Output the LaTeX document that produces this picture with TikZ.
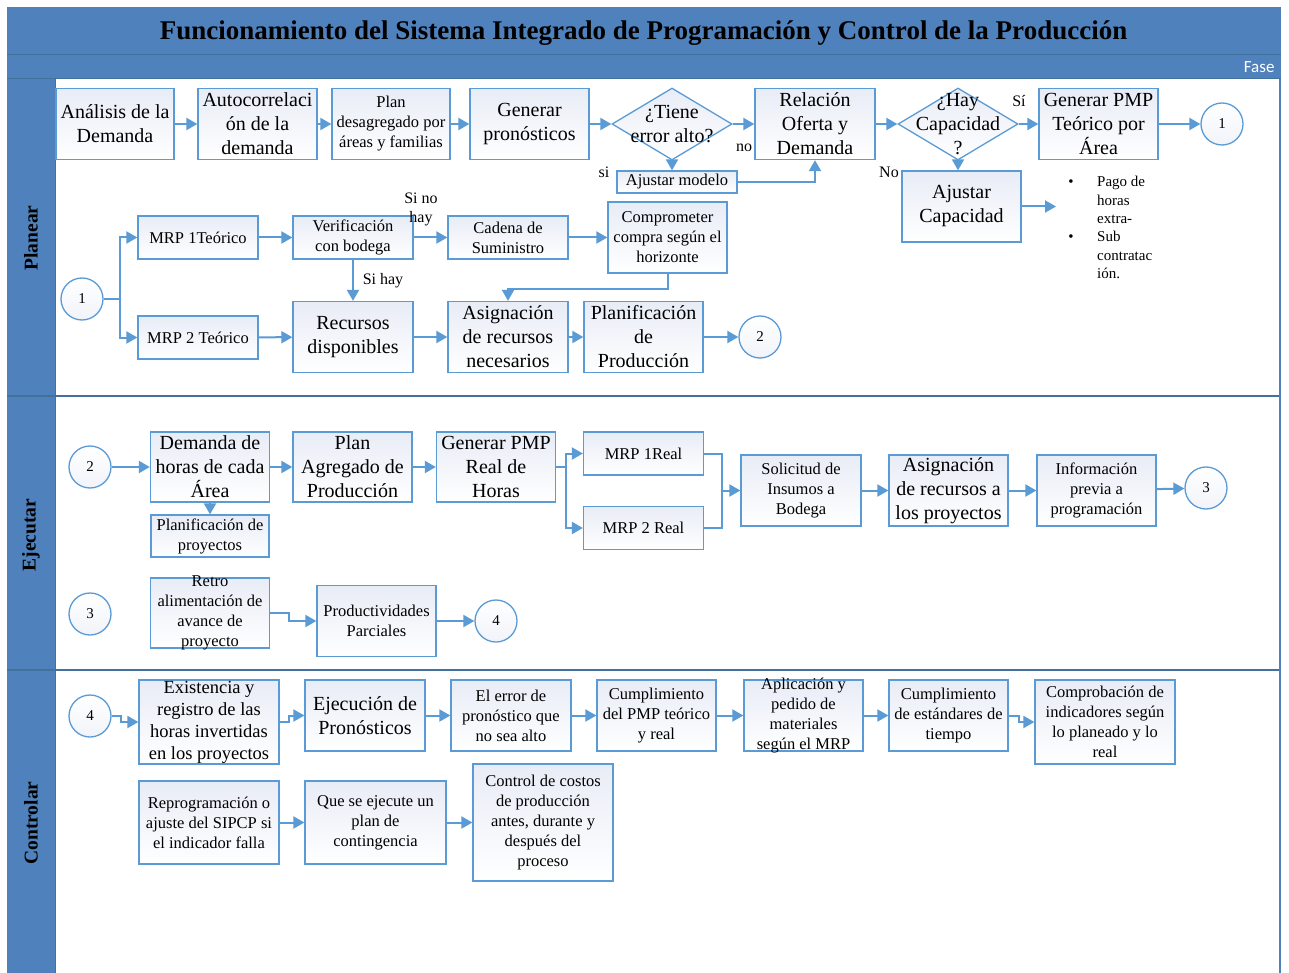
\documentclass[tikz,border=0pt]{standalone}
\usepackage{fontspec}
\setmainfont{Liberation Serif}
\newfontfamily\fasefont{Carlito}
\usetikzlibrary{arrows.meta,shapes.geometric}

\definecolor{laneblue}{HTML}{4F81BD}
\definecolor{lanedark}{HTML}{41719C}
\definecolor{boxline}{HTML}{5B9BD5}
\definecolor{boxtint}{HTML}{E8ECF6}

\newcommand{\bigtxt}{\fontsize{20}{24}\selectfont}
\newcommand{\smtxt}{\fontsize{16.5}{20}\selectfont}
\newcommand{\listtxt}{\fontsize{15}{18.5}\selectfont}

\tikzset{
    box/.style={draw=boxline, line width=1.3pt, top color=boxtint, bottom color=white,
        align=center, inner sep=0pt, minimum width=119pt},
    tallbox/.style={box, minimum height=71pt, font=\bigtxt},
    tallsmall/.style={box, minimum height=71pt, font=\smtxt},
    flatbox/.style={box, minimum width=120pt, minimum height=43pt, font=\smtxt},
    decision/.style={diamond, draw=boxline, line width=1.3pt, top color=boxtint, bottom color=white,
        minimum width=120pt, minimum height=72pt, inner sep=0pt, aspect=1.67},
    joint/.style={circle, draw=boxline, line width=1.3pt, top color=white, bottom color=boxtint!60,
        minimum size=42pt, inner sep=0pt, font=\fontsize{15}{15}\selectfont},
    flow/.style={draw=boxline, line width=2pt, -{Triangle[length=11pt,width=12pt]}},
    flowline/.style={draw=boxline, line width=2pt},
    tag/.style={font=\fontsize{16}{19}\selectfont, inner sep=0pt, align=center},
    lanetitle/.style={rotate=90, font=\fontsize{19.5}{20}\selectfont\bfseries},
}

\begin{document}
\begin{tikzpicture}[x=1pt,y=-1pt]
    \useasboundingbox (0,0) rectangle (1289,973);
    \fill[white] (0,0) rectangle (1289,973);

    % frame and lanes
    \fill[laneblue] (7,7) rectangle (1281,79);
    \fill[laneblue] (7,79) rectangle (55,973);
    \draw[lanedark, line width=1pt] (7,55) -- (1281,55);
    \draw[lanedark, line width=1pt] (7,79) -- (1281,79);
    \draw[lanedark, line width=1pt] (55,79) -- (55,973);
    \draw[lanedark, line width=1.2pt] (7,396) -- (1280,396);
    \draw[lanedark, line width=1.2pt] (7,670) -- (1280,670);
    \draw[laneblue, line width=1.2pt] (1280,79) -- (1280,973);

    \node[font=\fontsize{27}{30}\selectfont\bfseries] (titulo) at (643.5,33)
        {Funcionamiento del Sistema Integrado de Programación y Control de la Producción};
    \node[anchor=east, text=white, font=\fasefont\fontsize{17}{17}\selectfont] (fase) at (1278,67) {Fase};

    \node[lanetitle] (planear) at (31,238) {Planear};
    \node[lanetitle] (ejecutar) at (31,535) {Ejecutar};
    \node[lanetitle] (controlar) at (31,823) {Controlar};

    % planear, first row
    \node[tallbox, minimum width=118pt] (a1) at (115,124) {Análisis de la\\Demanda};
    \node[tallbox] (a2) at (257.5,124) {Autocorrelaci\\ón de la\\demanda};
    \node[tallsmall, minimum width=118pt] (a3) at (391,124) {Plan\\desagregado por\\áreas y familias};
    \node[tallbox] (a4) at (529.5,124) {Generar\\pronósticos};
    \node[decision] (d1) at (672,124) {};
    \node[font=\bigtxt, align=center, inner sep=0pt] (d1t) at (d1) {¿Tiene\\error alto?};
    \node[tallbox, minimum width=120pt] (a5) at (815,124) {Relación\\Oferta y\\Demanda};
    \node[decision] (d2) at (958,124) {};
    \node[font=\bigtxt, align=center, inner sep=0pt] (d2t) at (d2) {¿Hay\\Capacidad\\?};
    \node[tallbox] (a6) at (1098.5,124) {Generar PMP\\Teórico por\\Área};
    \node[joint] (c1) at (1222,124) {1};
    \node[box, minimum width=120pt, minimum height=22pt, font=\smtxt] (am) at (677,182) {Ajustar modelo};
    \node[tallbox] (ac) at (961.5,206.5) {Ajustar\\Capacidad};
    \coordinate (lst) at (1056,206.5);
    \node[font=\listtxt, inner sep=0pt] (b1) at (1071,183) {\textbullet};
    \node[font=\listtxt, inner sep=0pt] (b2) at (1071,238) {\textbullet};
    \node[font=\listtxt, anchor=north west, align=left, inner sep=0pt] (l1) at (1097,176) {Pago de\\horas\\extra-};
    \node[font=\listtxt, anchor=north west, align=left, inner sep=0pt] (l2) at (1097,231) {Sub\\contratac\\ión.};

    \node[tag] (tsi) at (604,172) {si};
    \node[tag] (tno) at (744,148) {no};
    \node[tag] (tsi2) at (1019,101) {Sí};
    \node[tag] (tno2) at (889,172) {No};

    \draw[flow] (a1) -- (a2);
    \draw[flow] (a2) -- (a3);
    \draw[flow] (a3) -- (a4);
    \draw[flow] (a4) -- (d1);
    \draw[flow] (d1) -- (a5);
    \draw[flow] (d1.south) -- (d1.south |- am.north);
    \draw[flow] (am.east) -| (a5.south);
    \draw[flow] (a5) -- (d2);
    \draw[flow] (d2) -- (a6);
    \draw[flow] (a6) -- (c1);
    \draw[flow] (d2.south) -- (d2.south |- ac.north);
    \draw[flow] (ac.east |- lst) -- (lst);

    % planear, second row
    \node[joint] (c1b) at (82,299) {1};
    \coordinate (sp1) at (120,299);
    \node[flatbox] (m1) at (198,237.5) {MRP 1Teórico};
    \node[flatbox] (m2) at (198,337.5) {MRP 2 Teórico};
    \node[flatbox] (v) at (353,237.5) {Verificación\\con bodega};
    \node[flatbox] (cs) at (508,237.5) {Cadena de\\Suministro};
    \node[tallsmall] (cp) at (667.5,237.5) {Comprometer\\compra según el\\horizonte};
    \node[tallbox, minimum width=120pt] (rd) at (353,337) {Recursos\\disponibles};
    \node[tallbox, minimum width=120pt] (as) at (508,337) {Asignación\\de recursos\\necesarios};
    \node[tallbox] (pp) at (643.5,337) {Planificación\\de\\Producción};
    \node[joint] (c2) at (760,337) {2};
    \node[tag] (tsnh) at (421,209) {Si no\\hay};
    \node[tag] (tsh) at (383,281) {Si hay};

    \draw[flowline] (c1b) -- (sp1);
    \draw[flow] (sp1) |- (m1.west);
    \draw[flow] (sp1) |- (m2.west);
    \draw[flow] (m1) -- (v);
    \draw[flow] (v) -- (cs);
    \draw[flow] (cs) -- (cp);
    \draw[flow] (v) -- (rd);
    \draw[flow] (cp.south) -- ++(0,15) -| (as.north);
    \draw[flow] (m2) -- (rd);
    \draw[flow] (rd) -- (as);
    \draw[flow] (as) -- (pp);
    \draw[flow] (pp) -- (c2);

    % ejecutar
    \node[joint] (c2b) at (90,467) {2};
    \node[tallbox, minimum height=70pt] (e1) at (210,467) {Demanda de\\horas de cada\\Área};
    \node[flatbox, minimum width=118pt, minimum height=42pt] (e1b) at (210,536) {Planificación de\\proyectos};
    \node[tallbox, minimum height=70pt] (e2) at (352.5,467) {Plan\\Agregado de\\Producción};
    \node[tallbox, minimum height=70pt] (e3) at (496,467) {Generar PMP\\Real de\\Horas};
    \coordinate (sp2) at (566,467);
    \node[flatbox] (e4) at (643.5,453.5) {MRP 1Real};
    \node[flatbox] (e5) at (643.5,528) {MRP 2 Real};
    \coordinate (mg) at (722,490.5);
    \node[tallsmall, minimum width=120pt] (e6) at (801,490.5) {Solicitud de\\Insumos a\\Bodega};
    \node[tallbox] (e7) at (948.5,490.5) {Asignación\\de recursos a\\los proyectos};
    \node[tallsmall] (e8) at (1096.5,490.5) {Información\\previa a\\programación};
    \node[joint] (c3) at (1206,488) {3};

    \draw[flow] (c2b) -- (e1);
    \draw[flow] (e1) -- (e1b);
    \draw[flow] (e1) -- (e2);
    \draw[flow] (e2) -- (e3);
    \draw[flowline] (e3) -- (sp2);
    \draw[flow] (sp2) |- (e4.west);
    \draw[flow] (sp2) |- (e5.west);
    \draw[flowline] (e4.east) -| (mg);
    \draw[flowline] (e5.east) -| (mg);
    \draw[flow] (mg) -- (e6);
    \draw[flow] (e6) -- (e7);
    \draw[flow] (e7) -- (e8);
    \draw[flow] (e8) -- (c3);

    \node[joint] (c3b) at (90,614) {3};
    \node[box, minimum height=70pt] (f1) at (210,613) {};
    \node[font=\smtxt, align=center, inner sep=0pt] (f1t) at (f1) {Retro\\alimentación de\\avance de\\proyecto};
    \node[tallsmall] (f2) at (376.5,621) {Productividades\\Parciales};
    \node[joint] (c4) at (496,621) {4};

    \draw[flow] (f1.east) -- ++(19,0) |- (f2.west);
    \draw[flow] (f2) -- (c4);

    % controlar
    \node[joint] (c4b) at (90,716) {4};
    \node[box, minimum width=140pt, minimum height=84pt, font=\fontsize{18.5}{22}\selectfont] (g1) at (209,722)
        {Existencia y\\registro de las\\horas invertidas\\en los proyectos};
    \node[tallbox, minimum width=120pt] (g2) at (365,715.5) {Ejecución de\\Pronósticos};
    \node[tallsmall, minimum width=120pt] (g3) at (511,715.5) {El error de\\pronóstico que\\no sea alto};
    \node[tallsmall] (g4) at (656.5,715.5) {Cumplimiento\\del PMP teórico\\y real};
    \node[box, minimum height=71pt] (g5) at (803.5,715.5) {};
    \node[font=\smtxt, align=center, inner sep=0pt] (g5t) at (g5) {Aplicación y\\pedido de\\materiales\\según el MRP};
    \node[tallsmall] (g6) at (948.5,715.5) {Cumplimiento\\de estándares de\\tiempo};
    \node[box, minimum width=140pt, minimum height=84pt, font=\smtxt] (g7) at (1105,722)
        {Comprobación de\\indicadores según\\lo planeado y lo\\real};

    \draw[flow] (c4b.east) -- ++(9,0) |- (g1.west);
    \draw[flow] (g1.east) -- ++(9,0) |- (g2.west);
    \draw[flow] (g2) -- (g3);
    \draw[flow] (g3) -- (g4);
    \draw[flow] (g4) -- (g5);
    \draw[flow] (g5) -- (g6);
    \draw[flow] (g6.east) -- ++(10,0) |- (g7.west);

    % second row
    \node[box, minimum width=140pt, minimum height=83pt, font=\smtxt] (h1) at (209,822.5)
        {Reprogramación o\\ajuste del SIPCP si\\el indicador falla};
    \node[box, minimum width=141pt, minimum height=83pt, font=\smtxt] (h2) at (375.5,822.5)
        {Que se ejecute un\\plan de\\contingencia};
    \node[box, minimum width=140pt, minimum height=117pt, font=\smtxt] (h3) at (543,822.5)
        {Control de costos\\de producción\\antes, durante y\\después del\\proceso};

    \draw[flow] (h1) -- (h2);
    \draw[flow] (h2) -- (h3);
\end{tikzpicture}
\end{document}
